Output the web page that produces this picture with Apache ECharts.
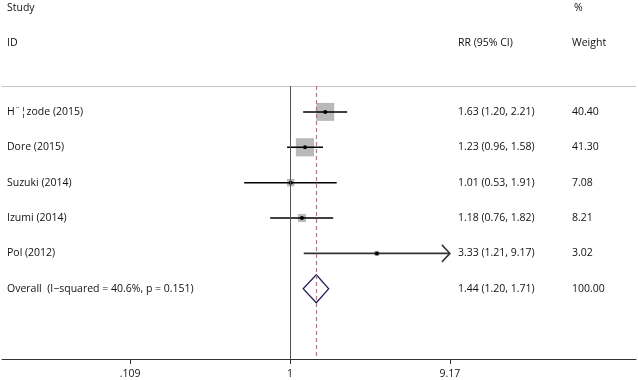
<!DOCTYPE html>
<html>
<head>
<meta charset="utf-8">
<script src="https://cdn.jsdelivr.net/npm/echarts@6/dist/echarts.min.js"></script>
<style>
  html, body { margin: 0; background: #fff; }
  #chart { width: 638px; height: 380px; }
</style>
</head>
<body>
<div id="chart"></div>
<script>
// study data
const studies = ['H\u00a8\u00a6zode (2015)', 'Dore (2015)', 'Suzuki (2014)', 'Izumi (2014)', 'Pol (2012)'];
const rr = [1.63, 1.23, 1.01, 1.18, 3.33];
const lower = [1.20, 0.96, 0.53, 0.76, 1.21];
const upper = [2.21, 1.58, 1.91, 1.82, 9.17];
const weights = ['40.40', '41.30', '7.08', '8.21', '3.02'];

// pooled estimate
const overallLabel = 'Overall  (I\u2212squared = 40.6%, p = 0.151)';
const overallRR = 1.44;
const overallLower = 1.20;
const overallUpper = 1.71;
const overallWeight = '100.00';

// x axis ticks
const tickValues = [0.109, 1, 9.17];
const tickLabels = ['.109', '1', '9.17'];

const FONT = '"Open Sans", sans-serif';
const lg = v => Math.log10(v);
const clipHigh = tickValues[tickValues.length - 1];
const clipLow = tickValues[0];

const fmt = v => v.toFixed(2);
const ciText = (e, l, u) => fmt(e) + ' (' + fmt(l) + ', ' + fmt(u) + ')';

const rowData = studies.map((s, i) => [
  lg(rr[i]), i + 1,
  lg(Math.max(lower[i], clipLow)), lg(Math.min(upper[i], clipHigh)),
  parseFloat(weights[i]),
  upper[i] >= clipHigh ? 1 : 0
]);

const textData = studies.map((s, i) => [0, i + 1, s, ciText(rr[i], lower[i], upper[i]), weights[i]]);
textData.push([0, studies.length + 1, overallLabel, ciText(overallRR, overallLower, overallUpper), overallWeight]);

const chart = echarts.init(document.getElementById('chart'));

const textStyle = { fill: '#111', fontSize: 10.5, fontFamily: FONT, verticalAlign: 'middle' };

chart.setOption({
  animation: false,
  backgroundColor: '#fff',
  grid: { left: 2, right: 2, top: 86, bottom: 20 },
  xAxis: [
    {
      type: 'value',
      min: -1.733, max: 2.082,
      splitLine: { show: false },
      axisLine: { lineStyle: { color: '#333', width: 1 } },
      axisTick: {
        length: 5,
        lineStyle: { color: '#333' },
        customValues: tickValues.map(lg)
      },
      axisLabel: {
        customValues: tickValues.map(lg),
        margin: 10,
        color: '#111',
        fontSize: 10.5,
        fontFamily: FONT,
        formatter: v => {
          const k = tickValues.findIndex(t => Math.abs(lg(t) - v) < 1e-6);
          return k >= 0 ? tickLabels[k] : '';
        }
      }
    },
    {
      type: 'value',
      position: 'top',
      min: -1.733, max: 2.082,
      splitLine: { show: false },
      axisLine: { show: true, lineStyle: { color: '#c4c4c4', width: 1 } },
      axisTick: { show: false },
      axisLabel: { show: false }
    }
  ],
  yAxis: {
    type: 'value',
    inverse: true,
    min: 0.268, max: 7.986,
    show: false
  },
  graphic: [
    { type: 'text', left: 7, top: 3, style: Object.assign({}, textStyle, { text: 'Study' }) },
    { type: 'text', left: 574, top: 3, style: Object.assign({}, textStyle, { text: '%' }) },
    { type: 'text', left: 7, top: 38, style: Object.assign({}, textStyle, { text: 'ID' }) },
    { type: 'text', left: 458, top: 38, style: Object.assign({}, textStyle, { text: 'RR (95% CI)' }) },
    { type: 'text', left: 572, top: 38, style: Object.assign({}, textStyle, { text: 'Weight' }) }
  ],
  series: [
    {
      // reference lines
      type: 'line',
      data: [],
      markLine: {
        silent: true,
        symbol: 'none',
        label: { show: false },
        data: [
          { xAxis: lg(1), lineStyle: { color: '#555', width: 1, type: 'solid' } },
          { xAxis: lg(overallRR), lineStyle: { color: '#b07a86', width: 1.2, type: [4, 3] } }
        ]
      }
    },
    {
      // study boxes and confidence intervals
      type: 'custom',
      data: rowData,
      encode: { x: 0, y: 1 },
      renderItem(params, api) {
        const y = api.value(1);
        const pt = api.coord([api.value(0), y]);
        const lo = api.coord([api.value(2), y]);
        const hi = api.coord([api.value(3), y]);
        const side = 2.83 * Math.sqrt(api.value(4));
        const arrow = api.value(5) === 1;
        const lineColor = arrow ? '#333' : '#000';
        const children = [
          {
            type: 'rect',
            shape: { x: pt[0] - side / 2, y: pt[1] - side / 2, width: side, height: side },
            style: { fill: '#b9b9b9' }
          },
          {
            type: 'line',
            shape: { x1: lo[0], y1: lo[1], x2: hi[0], y2: hi[1] },
            style: { stroke: lineColor, lineWidth: arrow ? 1.8 : 1.5 }
          },
          {
            type: 'circle',
            shape: { cx: pt[0], cy: pt[1], r: 2 },
            style: { fill: '#000' }
          }
        ];
        if (arrow) {
          children.push({
            type: 'polyline',
            shape: { points: [[hi[0] - 8, hi[1] - 8.5], [hi[0], hi[1]], [hi[0] - 8, hi[1] + 8.5]] },
            style: { stroke: lineColor, lineWidth: 1.5, fill: null }
          });
        }
        return { type: 'group', children };
      }
    },
    {
      // pooled diamond
      type: 'custom',
      data: [[lg(overallRR), studies.length + 1, lg(overallLower), lg(overallUpper)]],
      encode: { x: 0, y: 1 },
      renderItem(params, api) {
        const y = api.value(1);
        const c = api.coord([api.value(0), y]);
        const lo = api.coord([api.value(2), y]);
        const hi = api.coord([api.value(3), y]);
        return {
          type: 'polygon',
          shape: { points: [[lo[0], lo[1]], [c[0], c[1] - 14], [hi[0], hi[1]], [c[0], c[1] + 14]] },
          style: { fill: '#fff', stroke: '#1f1f55', lineWidth: 1.2 }
        };
      }
    },
    {
      // table text columns
      type: 'custom',
      data: textData,
      encode: { x: 0, y: 1 },
      renderItem(params, api) {
        const d = textData[params.dataIndex];
        const yPix = api.coord([0, d[1]])[1];
        return {
          type: 'group',
          children: [
            { type: 'text', style: Object.assign({}, textStyle, { text: d[2], x: 7, y: yPix }) },
            { type: 'text', style: Object.assign({}, textStyle, { text: d[3], x: 458, y: yPix }) },
            { type: 'text', style: Object.assign({}, textStyle, { text: d[4], x: 572, y: yPix }) }
          ]
        };
      }
    }
  ]
});
</script>
</body>
</html>
